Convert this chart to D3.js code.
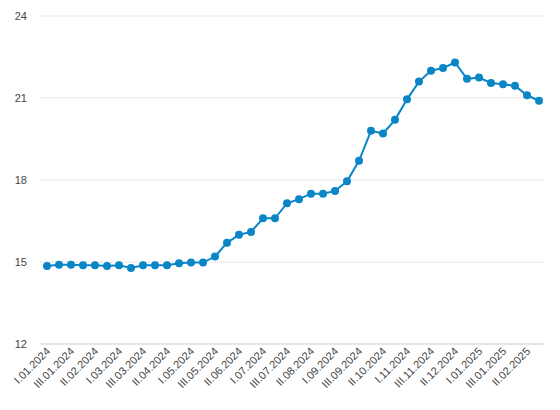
<!DOCTYPE html><html><head><meta charset="utf-8">
<script src="https://cdn.jsdelivr.net/npm/d3@7"></script>
<style>body{margin:0;background:#fff}</style></head><body>
<svg id="c" width="560" height="410"></svg>
<script>
const periods=[];
const months=[["01","2024"],["02","2024"],["03","2024"],["04","2024"],["05","2024"],["06","2024"],["07","2024"],["08","2024"],["09","2024"],["10","2024"],["11","2024"],["12","2024"],["01","2025"],["02","2025"]];
months.forEach(m=>["I","II","III"].forEach(p=>periods.push(p+"."+m[0]+"."+m[1])));
const values=[14.85,14.9,14.9,14.88,14.88,14.85,14.88,14.78,14.88,14.88,14.88,14.95,14.98,14.98,15.2,15.7,16.0,16.1,16.6,16.6,17.15,17.3,17.5,17.5,17.6,17.95,18.7,19.8,19.7,20.2,20.95,21.6,22.0,22.1,22.3,21.7,21.75,21.55,21.5,21.45,21.1,20.9];
const yTicks=[12,15,18,21,24];
const svg=d3.select("#c");
const x=d3.scalePoint().domain(periods).range([47,539]);
const y=d3.scaleLinear().domain([12,24]).range([344,16]);
svg.append("g").selectAll("line").data(yTicks).join("line")
 .attr("x1",40).attr("x2",545).attr("y1",d=>y(d)).attr("y2",d=>y(d))
 .attr("stroke",d=>d===12?"#ccc":"#e6e6e6");
svg.append("g").selectAll("text").data(yTicks).join("text")
 .attr("x",27).attr("y",d=>y(d)+4).attr("text-anchor","end")
 .attr("font-family","Liberation Sans, Arial").attr("font-size",11).attr("fill","#444").text(d=>d);
const lbl=periods.filter((d,i)=>i%2===0);
svg.append("g").selectAll("text").data(lbl).join("text")
 .attr("transform",d=>`translate(${x(d)+4},${352}) rotate(-45)`).attr("text-anchor","end")
 .attr("font-family","Liberation Sans, Arial").attr("font-size",11).attr("fill","#444").text(d=>d);
svg.append("path").datum(values).attr("fill","none").attr("stroke","#0a86c6").attr("stroke-width",2)
 .attr("d",d3.line().x((d,i)=>x(periods[i])).y(d=>y(d)));
svg.append("g").selectAll("circle").data(values).join("circle")
 .attr("cx",(d,i)=>x(periods[i])).attr("cy",d=>y(d)).attr("r",4).attr("fill","#0a86c6");
</script></body></html>
